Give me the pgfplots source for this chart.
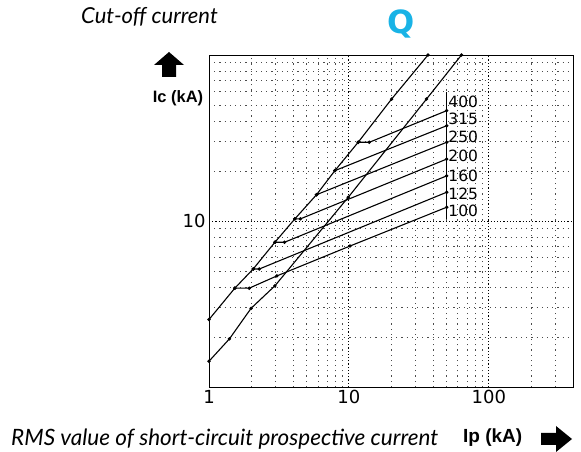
\documentclass[border=0pt]{standalone}
\usepackage{fontspec}
\setmainfont{DejaVu Sans}
\newfontfamily\titlefont{Lato}
\newfontfamily\boldsans{Liberation Sans}
\usepackage{pgfplots}
\pgfplotsset{compat=1.18}
\definecolor{qcyan}{HTML}{19B3E6}
\pgfplotsset{fuse/.style={black, solid, line width=1.1pt, mark=*, mark size=1.1pt}}

\begin{document}
\begin{tikzpicture}[x=1pt,y=1pt]
\path[use as bounding box] (0,0) rectangle (581,452);

% titles and axis names
\node[anchor=west, inner sep=0pt, font=\titlefont\itshape\fontsize{22}{24}\selectfont] at (81,435) {Cut-off current};
\node[inner sep=0pt, text=qcyan, font=\bfseries\fontsize{32}{32}\selectfont] at (401,428) {Q};
\node[anchor=west, inner sep=0pt, font=\titlefont\itshape\fontsize{22.5}{24}\selectfont] at (11,13) {RMS value of short-circuit prospective current};
\node[anchor=west, inner sep=0pt, font=\boldsans\bfseries\fontsize{19}{21}\selectfont] at (463,14) {Ip (kA)};
\node[inner sep=0pt, font=\boldsans\bfseries\fontsize{16.5}{18}\selectfont] at (178,354) {Ic (kA)};
% arrows
\fill (154,387) -- (169,400) -- (184,387) -- (176,387) -- (176,375) -- (162,375) -- (162,387) -- cycle;
\fill (541,7) -- (556,7) -- (556,0) -- (572,13) -- (556,26) -- (556,19) -- (541,19) -- cycle;

\begin{axis}[
    at={(209pt,65pt)}, anchor=south west,
    scale only axis, width=364pt, height=332pt,
    xmode=log, ymode=log,
    xmin=1, xmax=400, ymin=1, ymax=100,
    xtick={1,10,100}, xticklabels={1,10,100},
    ytick={1,10,100}, yticklabels={,10,},
    minor xtick={2,3,4,5,6,7,8,9,20,30,40,50,60,70,80,90,200,300},
    minor ytick={2,3,4,5,6,7,8,9,20,30,40,50,60,70,80,90},
    major tick length=0pt, minor tick length=0pt,
    grid=both,
    major grid style={black, dash pattern=on 1.2pt off 2pt, line width=0.8pt},
    minor grid style={black!70, dash pattern=on 1.2pt off 4pt, line width=0.7pt},
    axis line style={line width=0.9pt},
    ticklabel style={font=\fontsize{18}{20}\selectfont},
  ]
% upper peak line
\addplot[fuse] coordinates {(1,2.55) (1.53,3.94) (2.07,5.14) (2.96,7.45) (4.11,10.3) (5.87,14.4) (7.94,20.1) (11.65,29.8) (20.2,54.3) (36.8,100)};
% lower peak line
\addplot[fuse] coordinates {(1,1.43) (1.4,1.95) (2.0,2.98) (2.96,4.07) (9.9,13.9) (35.9,54.3) (63.8,100)};
% fuse ratings
\addplot[fuse] coordinates {(1.53,3.94) (1.94,3.94) (3.06,4.67) (10.2,7.07) (50,12.1)};   % 100
\addplot[fuse] coordinates {(2.07,5.14) (2.29,5.14) (50,14.9)};   % 125
\addplot[fuse] coordinates {(2.96,7.45) (3.47,7.45) (50,18.7)};   % 160
\addplot[fuse] coordinates {(4.11,10.3) (4.5,10.3) (50,23.6)};    % 200
\addplot[fuse] coordinates {(5.87,14.4) (50,29.8)};               % 250
\addplot[fuse] coordinates {(7.94,20.1) (50,37.5)};               % 315
\addplot[fuse] coordinates {(11.65,29.8) (14.0,29.8) (50,46.2)};  % 400
\draw[line width=0.8pt] (axis cs:50,10.3) -- (axis cs:50,60);
\node[anchor=west, inner sep=1pt, font=\fontsize{15.5}{17}\selectfont] at (axis cs:50.5,51.9) {400};
\node[anchor=west, inner sep=1pt, font=\fontsize{15.5}{17}\selectfont] at (axis cs:50.5,41.1) {315};
\node[anchor=west, inner sep=1pt, font=\fontsize{15.5}{17}\selectfont] at (axis cs:50.5,32.1) {250};
\node[anchor=west, inner sep=1pt, font=\fontsize{15.5}{17}\selectfont] at (axis cs:50.5,24.7) {200};
\node[anchor=west, inner sep=1pt, font=\fontsize{15.5}{17}\selectfont] at (axis cs:50.5,18.7) {160};
\node[anchor=west, inner sep=1pt, font=\fontsize{15.5}{17}\selectfont] at (axis cs:50.5,14.5) {125};
\node[anchor=west, inner sep=1pt, font=\fontsize{15.5}{17}\selectfont] at (axis cs:50.5,11.5) {100};
\end{axis}
\end{tikzpicture}
\end{document}
